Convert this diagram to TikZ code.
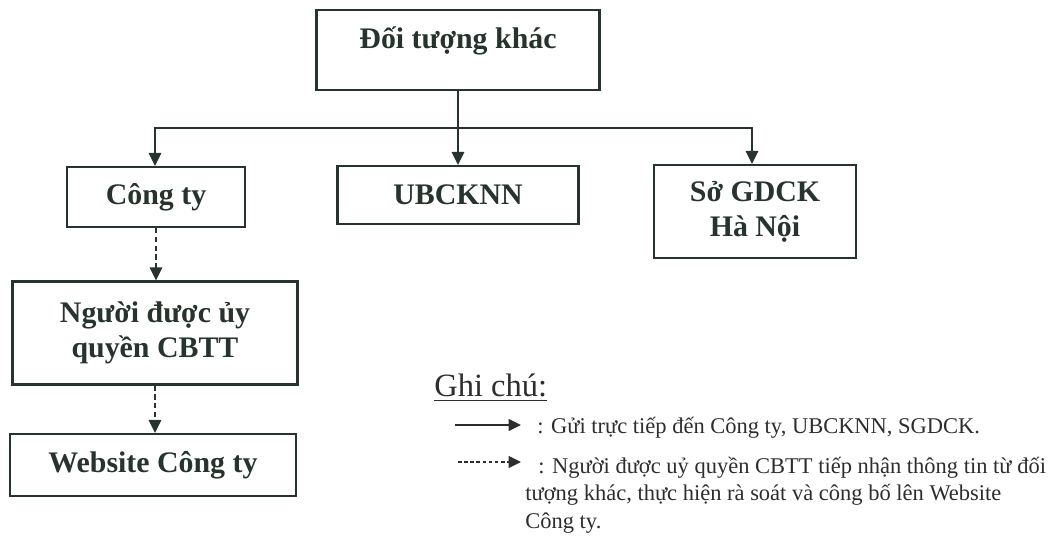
\documentclass[tikz,border=0pt]{standalone}
\usepackage{fontspec}
\setmainfont{Liberation Serif}
\usetikzlibrary{positioning}
\usetikzlibrary{arrows.meta}
\definecolor{ink}{RGB}{38, 52, 45}
\definecolor{note}{RGB}{45, 45, 45}

\begin{document}
\begin{tikzpicture}
  [
    x = 0.02cm,
    y = -0.02cm
  ]
  \useasboundingbox (0,0) rectangle (1054,536);
  \begin{scope}[box/.style={rectangle,draw=ink,line width=1.3pt,text=ink,
        font=\bfseries\fontsize{17}{20}\selectfont,align=center,inner sep=0pt},
        conn/.style={draw=ink,line width=0.9pt,-{Triangle[length=0.26cm,width=0.25cm]}},
        dconn/.style={conn,dash pattern=on 3pt off 2pt},
        lconn/.style={draw=note,line width=0.8pt,-{Triangle[length=0.25cm,width=0.24cm]}},
        legend/.style={font=\fontsize{12.8}{15.8}\selectfont,text=note,align=left,inner sep=0pt}]
  \node [box,minimum width=5.66cm,minimum height=1.6cm,text depth=0.5cm] (obj) at (458,50) {Đối tượng khác};
  \node [box,minimum width=3.56cm,minimum height=1.2cm] (cty) at (156,197) {Công ty};
  \node [box,minimum width=4.82cm,minimum height=1.16cm] (ub) at (458,195) {UBCKNN};
  \node [box,minimum width=4.04cm,minimum height=1.86cm] (sgd) at (755,211.5) {Sở GDCK\\Hà Nội};
  \node [box,minimum width=5.7cm,minimum height=2.06cm] (auth) at (155,333) {Người được ủy\\quyền CBTT};
  \node [box,minimum width=5.72cm,minimum height=1.24cm] (web) at (153,465) {Website Công ty};
  \coordinate (split) at (458,128);
  \draw [draw=ink,line width=0.9pt] (obj) -- (split);
  \draw [conn] (split) -- (ub);
  \draw [conn] (split) -| (cty.north -| 155,0);
  \draw [conn] (split) -| (sgd.north -| 752,0);
  \draw [dconn] (cty) -- (cty |- auth.north);
  \draw [dconn] (auth) -- (auth |- web.north);
  % ghi chu
  \node [font=\fontsize{18.5}{20}\selectfont,text=note,anchor=base west,inner sep=0pt] (gc) at (434,397) {\underline{Ghi chú:}};
  \coordinate (sa) at (455,425);
  \coordinate (sb) at (521,425);
  \coordinate (da) at (458,462);
  \coordinate (db) at (521,462);
  \draw [lconn] (sa) -- (sb);
  \draw [lconn,dash pattern=on 2pt off 1.5pt] (da) -- (db);
  \node [legend,anchor=west] (ta) [right=0.32cm of sb,yshift=-0.06cm] {: Gửi trực tiếp đến Công ty, UBCKNN, SGDCK.};
  \node [legend,anchor=north west] (tb) at ([yshift=0.17cm]525,465) {\hspace*{0.26cm}: Người được uỷ quyền CBTT tiếp nhận thông tin từ đối\\tượng khác, thực hiện rà soát và công bố lên Website\\Công ty.};
  \end{scope}
\end{tikzpicture}
\end{document}
